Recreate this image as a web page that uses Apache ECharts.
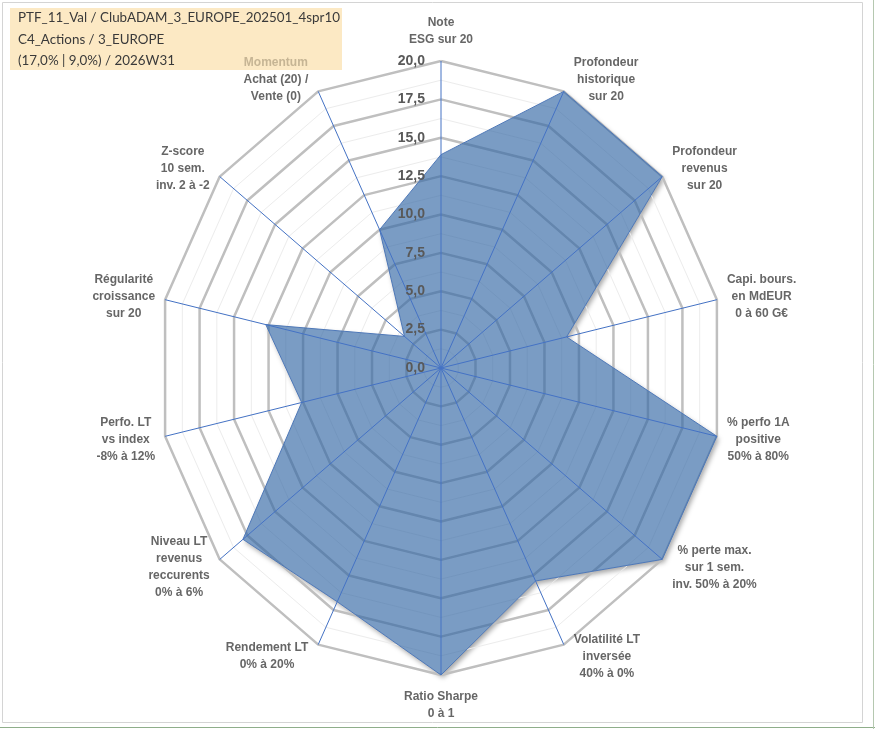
<!DOCTYPE html>
<html>
<head>
<meta charset="utf-8">
<script src="https://cdn.jsdelivr.net/npm/echarts@6/dist/echarts.min.js"></script>
<style>
  html, body { margin: 0; padding: 0; background: #fff; }
  #chart { width: 875px; height: 729px; }
</style>
</head>
<body>
<div id="chart"></div>
<script>
// axes of the radar, clockwise from the top
const categories = [
  "Note\nESG sur 20",
  "Profondeur\nhistorique\nsur 20",
  "Profondeur\nrevenus\nsur 20",
  "Capi. bours.\nen MdEUR\n0 à 60 G€",
  "% perfo 1A\npositive\n50% à 80%",
  "% perte max.\nsur 1 sem.\ninv. 50% à 20%",
  "Volatilité LT\ninversée\n40% à 0%",
  "Ratio Sharpe\n0 à 1",
  "Rendement LT\n0% à 20%",
  "Niveau LT\nrevenus\nreccurents\n0% à 6%",
  "Perfo. LT\nvs index\n-8% à 12%",
  "Régularité\ncroissance\nsur 20",
  "Z-score\n10 sem.\ninv. 2 à -2",
  "Momentum\nAchat (20) /\nVente (0)"
];
const scores = [13.9, 20, 20, 9.1, 20, 20, 15.4, 20, 16.9, 17.9, 10.1, 12.7, 3.3, 10];
const ticks = [0, 2.5, 5, 7.5, 10, 12.5, 15, 17.5, 20];
const minorTicks = [1.25, 3.75, 6.25, 8.75, 11.25, 13.75, 16.25, 18.75];
const titleLines = [
  "PTF_11_Val / ClubADAM_3_EUROPE_202501_4spr10",
  "C4_Actions / 3_EUROPE",
  "(17,0% | 9,0%) / 2026W31"
];
const maxScore = 20;

const n = categories.length;
const ang = i => i * 2 * Math.PI / n;
const toXY = (v, i) => [v * Math.sin(ang(i)), v * Math.cos(ang(i))];

const cv = document.createElement("canvas").getContext("2d");
const textW = (s, font) => { cv.font = font; return cv.measureText(s).width; };

const labelFont = 'bold 12px "Liberation Sans", Arial, sans-serif';
const lineH = 17;

const gridW = 566, gridH = 614;

const series = [];

// white copy of the area, only there to cast the shadow under the rings
series.push({
  type: "custom",
  data: [[0, 0]],
  z: 0,
  clip: false,
  silent: true,
  renderItem: (params, api) => ({
    type: "polygon",
    shape: { points: scores.map((v, i) => api.coord(toXY(v, i))) },
    style: {
      fill: "#ffffff",
      shadowBlur: 5,
      shadowColor: "rgba(0,0,0,0.35)",
      shadowOffsetX: 2,
      shadowOffsetY: 3
    }
  })
});

// rings
minorTicks.forEach(r => {
  const d = categories.map((c, i) => toXY(r, i));
  d.push(d[0]);
  series.push({ type: "line", data: d, symbol: "none", silent: true, z: 1,
    lineStyle: { color: "#ECECEC", width: 1 } });
});
ticks.filter(r => r > 0).forEach(r => {
  const d = categories.map((c, i) => toXY(r, i));
  d.push(d[0]);
  series.push({ type: "line", data: d, symbol: "none", silent: true, z: 1,
    lineStyle: { color: "#BFBFBF", width: 2.5 } });
});

// filled area
series.push({
  type: "custom",
  data: [[0, 0]],
  z: 3,
  clip: false,
  renderItem: (params, api) => ({
    type: "polygon",
    shape: { points: scores.map((v, i) => api.coord(toXY(v, i))) },
    style: {
      fill: "rgba(50,103,164,0.65)",
      stroke: "#4E78B8",
      lineWidth: 1
    }
  })
});

// spokes
categories.forEach((c, i) => {
  series.push({ type: "line", data: [[0, 0], toXY(maxScore, i)], symbol: "none", silent: true, z: 4,
    lineStyle: { color: "#4472C4", width: 1 } });
});

// category names
series.push({
  type: "scatter",
  symbolSize: 1,
  itemStyle: { color: "transparent" },
  silent: true,
  z: 5,
  data: categories.map((c, i) => {
    const lines = c.split("\n");
    const w = Math.max(...lines.map(l => textW(l, labelFont)));
    const h = lines.length * lineH;
    const s = Math.sin(ang(i)), co = Math.cos(ang(i));
    let off;
    if (Math.abs(s) < 0.1) off = [0, -Math.sign(co) * (13 + h / 2)];
    else off = [Math.sign(s) * (10 + w / 2), -13 * co];
    return {
      value: toXY(maxScore, i),
      label: {
        show: true,
        position: "inside",
        offset: off,
        formatter: () => lines.map((l, k) =>
          (k === 0 && l === "Momentum") ? "{m|" + l + "}" : "{n|" + l + "}").join("\n")
      }
    };
  }),
  label: {
    fontFamily: '"Liberation Sans", Arial, sans-serif',
    fontWeight: "bold",
    fontSize: 12,
    lineHeight: lineH,
    color: "#404040",
    rich: {
      n: { fontFamily: '"Liberation Sans", Arial, sans-serif', fontWeight: "bold", fontSize: 12, lineHeight: lineH, color: "#404040" },
      m: { fontFamily: '"Liberation Sans", Arial, sans-serif', fontWeight: "bold", fontSize: 12, lineHeight: lineH, color: "#B8A888" }
    }
  }
});

// title block
const titleFontBase = '"Lato", "Open Sans", sans-serif';
const wantW = 322;
const measured = textW(titleLines[0], "14px " + titleFontBase);
const titleSize = Math.min(15.5, 14 * wantW / measured);

const chart = echarts.init(document.getElementById("chart"), null, { renderer: "canvas" });
chart.setOption({
  animation: false,
  backgroundColor: "#ffffff",
  grid: { left: 158, top: 61, width: gridW, height: gridH },
  xAxis: { type: "value", min: -maxScore, max: maxScore, show: false },
  yAxis: {
    type: "value", min: -maxScore, max: maxScore, interval: 2.5, z: 10,
    position: "left",
    offset: -gridW / 2,
    axisLine: { show: false },
    axisTick: { show: false },
    splitLine: { show: false },
    axisLabel: {
      margin: 16,
      color: "#595959",
      fontWeight: "bold",
      fontSize: 14,
      fontFamily: '"Liberation Sans", Arial, sans-serif',
      formatter: v => ticks.includes(v) ? v.toFixed(1).replace(".", ",") : ""
    }
  },
  graphic: [
    { type: "rect", z: 0, silent: true, shape: { x: 2.5, y: 2.5, width: 860, height: 720 },
      style: { fill: null, stroke: "#D4D4D4", lineWidth: 1 } },
    { type: "line", silent: true, shape: { x1: 0, y1: 727.5, x2: 875, y2: 727.5 },
      style: { stroke: "#8FAE8A", lineWidth: 1 } },
    { type: "line", silent: true, shape: { x1: 873.5, y1: 0, x2: 873.5, y2: 729 },
      style: { stroke: "#B5C8B0", lineWidth: 1 } },
    { type: "rect", silent: true, shape: { x: 10, y: 8, width: 332, height: 62 },
      style: { fill: "#FCE9C4" } },
    ...titleLines.map((t, k) => ({
      type: "text", silent: true, x: 18, y: 18 + k * 21.5,
      style: { text: t, font: titleSize.toFixed(2) + "px " + titleFontBase, fill: "#3A3A3A",
        verticalAlign: "middle", align: "left" }
    }))
  ],
  series: series
});
</script>
</body>
</html>
